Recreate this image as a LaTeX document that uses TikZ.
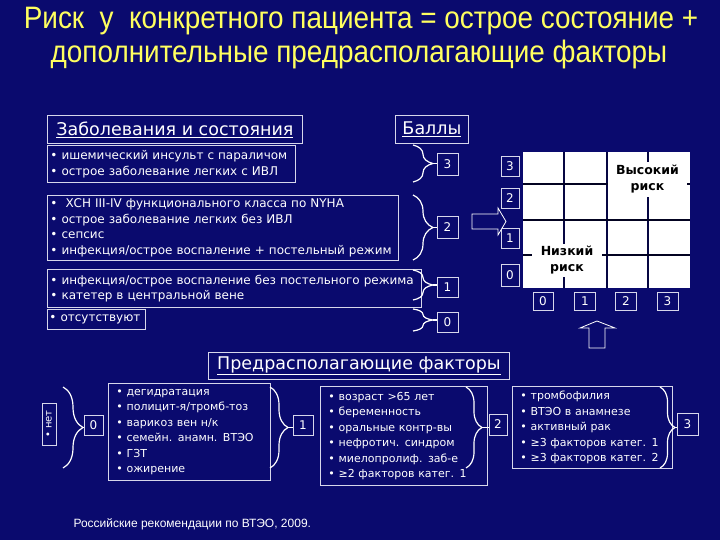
\documentclass[tikz,border=0pt]{standalone}
\usepackage{fontspec}
\setmainfont{DejaVu Sans}
\newfontfamily\titlefont{Liberation Sans}
\usetikzlibrary{positioning,decorations.pathreplacing}
\definecolor{navy}{RGB}{10,10,110}
\definecolor{titleyellow}{RGB}{255,255,95}
\definecolor{boxline}{RGB}{215,215,235}
\tikzstyle{list} = [rectangle, draw=boxline, line width=0.9pt, text=white, align=left, anchor=north west, inner sep=3pt, font=\fontsize{12}{15.5}\selectfont]
\tikzstyle{facts} = [list, inner xsep=8pt, font=\fontsize{11}{15.5}\selectfont]
\tikzstyle{head} = [rectangle, draw=boxline, line width=0.9pt, text=white, anchor=north west, inner sep=0pt, font=\fontsize{17.5}{17.5}\selectfont]
\tikzstyle{score} = [rectangle, draw=boxline, line width=0.9pt, text=white, inner sep=0pt, font=\fontsize{12}{12}\selectfont]
\tikzstyle{brace} = [draw=white, line width=1.2pt, decorate]
\tikzset{title/.style={text=titleyellow, font=\titlefont\fontsize{31}{31}\selectfont, xscale=0.9},
  risk/.style={fill=white, inner sep=0pt, align=center, font=\bfseries\fontsize{12.5}{16}\selectfont}}

\begin{document}
\begin{tikzpicture}[x=1pt, y=-1pt]
    \fill[navy] (0,0) rectangle (720,540);
    \useasboundingbox (0,0) rectangle (720,540);

    \node [title] (title1) at (361,21) {Риск\ \ у\ \ конкретного пациента = острое состояние +};
    \node [title] (title2) at (359,54) {дополнительные предрасполагающие факторы};

    % diseases and conditions
    \node [head, minimum width=255, minimum height=28] (headDis) at (47,115) {\underline{Заболевания и состояния}};
    \node [head, minimum width=73, minimum height=28] (headPts) at (395,115) {\underline{Баллы}};
    \node [list, text width=242, minimum height=37] (dis3) at (47,145) {• ишемический инсульт с параличом\\• острое заболевание легких с ИВЛ};
    \node [list, text width=345, minimum height=65] (dis2) at (47,195) {•\ \ ХСН III-IV функционального класса по NYHA\\• острое заболевание легких без ИВЛ\\• сепсис\\• инфекция/острое воспаление + постельный режим};
    \node [list, text width=368, minimum height=38] (dis1) at (47,269) {• инфекция/острое воспаление без постельного режима\\• катетер в центральной вене};
    \node [list, minimum height=20, inner sep=2pt, text width=94] (dis0) at (47,309) {• отсутствуют};

    \node [score, minimum width=21, minimum height=22] (s3) at (447.5,164) {3};
    \node [score, minimum width=21, minimum height=22] (s2) at (447.5,227) {2};
    \node [score, minimum width=21, minimum height=20] (s1) at (447.5,287) {1};
    \node [score, minimum width=21, minimum height=20] (s0) at (447.5,322) {0};

    \draw [brace, decoration={brace, amplitude=20pt}] (413,145) -- (413,182);
    \draw [brace, decoration={brace, amplitude=20pt}] (413,195) -- (413,260);
    \draw [brace, decoration={brace, amplitude=20pt}] (413,270) -- (413,300);
    \draw [brace, decoration={brace, amplitude=20pt}] (413,309) -- (413,331);
    \coordinate (t3) at (433,163.5);
    \coordinate (t2) at (433,227.5);
    \coordinate (t1) at (433,285);
    \coordinate (t0) at (433,320);
    \draw [white, line width=1.2pt] (t3) -- (t3 -| s3.west);
    \draw [white, line width=1.2pt] (t2) -- (t2 -| s2.west);
    \draw [white, line width=1.2pt] (t1) -- (t1 -| s1.west);
    \draw [white, line width=1.2pt] (t0) -- (t0 -| s0.west);

    % risk grid
    \fill [white] (523,152) rectangle (690,288);
    \foreach \x in {564,607,648}
        \draw [navy!60!black, line width=1.3pt] (\x,152) -- (\x,288);
    \foreach \y in {184,220,255}
        \draw [navy!30!black, line width=2.6pt] (523,\y) -- (690,\y);
    \node [risk, minimum width=79, minimum height=35] (high) at (647.5,179.5) {Высокий\\риск};
    \node [risk, minimum width=70, minimum height=33] (low) at (567,260.5) {Низкий\\риск};

    \node [score, minimum width=18, minimum height=20] (r3) at (510,166) {3};
    \node [score, minimum width=18, minimum height=20] (r2) at (510,198) {2};
    \node [score, minimum width=18, minimum height=20] (r1) at (510,238) {1};
    \node [score, minimum width=18, minimum height=22] (r0) at (510,275) {0};
    \node [score, minimum width=20, minimum height=18] (c0) at (543,301) {0};
    \node [score, minimum width=21, minimum height=18] (c1) at (585,301) {1};
    \node [score, minimum width=21, minimum height=18] (c2) at (626,301) {2};
    \node [score, minimum width=21, minimum height=18] (c3) at (667.5,301) {3};

    \draw [white, line width=0.8pt, fill=navy] (472,214) -- (498,214) -- (498,208) -- (506,221.5) -- (498,235) -- (498,229) -- (472,229) -- cycle;
    \draw [white, line width=0.8pt, fill=navy] (589,348) -- (589,328) -- (580,328) -- (597,321) -- (615,328) -- (605,328) -- (605,348) -- cycle;

    % predisposing factors
    \node [head, minimum width=301, minimum height=27] (headFac) at (208,352) {\underline{Предрасполагающие факторы}};
    \node [score, rotate=90, minimum width=42, minimum height=14, font=\fontsize{10}{10}\selectfont] (none) at (49,424) {• нет};
    \node [score, minimum width=19, minimum height=20] (b0) at (93.5,425) {0};
    \node [facts, text width=146, minimum height=97] (facA) at (108,383) {• дегидратация\\• полицит-я/тромб-тоз\\• варикоз вен н/к\\• семейн. анамн. ВТЭО\\• ГЗТ\\• ожирение};
    \node [score, minimum width=20, minimum height=20] (b1) at (303,425) {1};
    \node [facts, text width=151, minimum height=99] (facB) at (320,386) {• возраст >65 лет\\• беременность\\• оральные контр-вы\\• нефротич. синдром\\• миелопролиф. заб-е\\• ≥2 факторов катег. 1};
    \node [score, minimum width=18, minimum height=21] (b2) at (498,424.5) {2};
    \node [facts, text width=144, minimum height=82] (facC) at (512,386) {• тромбофилия\\• ВТЭО в анамнезе\\• активный рак\\• ≥3 факторов катег. 1\\• ≥3 факторов катег. 2};
    \node [score, minimum width=21, minimum height=22] (b3) at (687.5,424) {3};

    \draw [brace, decoration={brace, amplitude=20pt}] (63,387) -- (63,468);
    \draw [brace, decoration={brace, amplitude=18pt}] (270,387) -- (270,468);
    \draw [brace, decoration={brace, amplitude=16pt}] (466,387) -- (466,468);
    \draw [brace, decoration={brace, amplitude=15pt}] (660,387) -- (660,468);
    \coordinate (u0) at (83,427.5);
    \coordinate (u1) at (288,427.5);
    \coordinate (u2) at (482,427.5);
    \coordinate (u3) at (675,427.5);
    \draw [white, line width=1.2pt] (u0) -- (u0 -| b0.west);
    \draw [white, line width=1.2pt] (u1) -- (u1 -| b1.west);
    \draw [white, line width=1.2pt] (u2) -- (u2 -| b2.west);
    \draw [white, line width=1.2pt] (u3) -- (u3 -| b3.west);

    \node [text=white, anchor=west, font=\titlefont\fontsize{12}{12}\selectfont] (source) at (70,524) {Российские рекомендации по ВТЭО, 2009.};
\end{tikzpicture}
\end{document}
